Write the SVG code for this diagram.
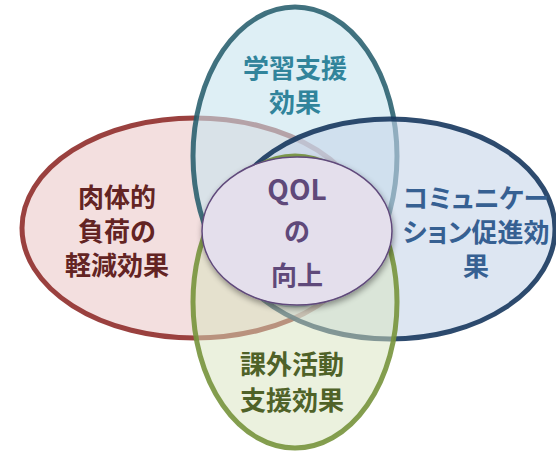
<svg xmlns="http://www.w3.org/2000/svg" width="556" height="452" viewBox="0 0 556 452">
<defs>
<filter id="sh" x="-20%" y="-20%" width="140%" height="150%"><feGaussianBlur in="SourceAlpha" stdDeviation="3"/><feOffset dx="1" dy="3"/><feComponentTransfer><feFuncA type="linear" slope="0.4"/></feComponentTransfer><feMerge><feMergeNode/><feMergeNode in="SourceGraphic"/></feMerge></filter>
</defs>
<style>
.e{stroke-width:5}
.t{font-family:"Noto Sans CJK JP","Noto Sans",sans-serif;font-weight:bold;font-size:26px;text-anchor:middle}
.k{font-feature-settings:"palt" 1}
</style>
<rect width="556" height="452" fill="#ffffff"/>
<g id="connectors"></g>
<g id="n-left"><ellipse class="e" cx="195" cy="228" rx="173" ry="110" fill="#f2dcdb" fill-opacity="0.9" stroke="#953735" stroke-opacity="0.95"/></g>
<g id="n-top"><ellipse class="e" cx="295" cy="156" rx="102" ry="149" fill="#c8e5ee" fill-opacity="0.6" stroke="#215968" stroke-opacity="0.85"/></g>
<g id="n-right"><ellipse class="e" cx="390" cy="229" rx="165" ry="110" fill="#c6d6ea" fill-opacity="0.6" stroke="#17375e" stroke-opacity="0.9"/></g>
<g id="n-bottom"><ellipse class="e" cx="295" cy="302" rx="102" ry="146" fill="#d7e4bd" fill-opacity="0.5" stroke="#77933c" stroke-opacity="0.9"/></g>
<g id="n-center"><ellipse cx="297" cy="231" rx="95" ry="74" fill="#e4dfec" stroke="#604a7b" stroke-width="1.5" filter="url(#sh)"/>
<text class="t" x="297" y="200" fill="#5f497a" style="font-size:28px">QOL</text>
<text class="t" x="297" y="240.5" fill="#5f497a">の</text>
<text class="t" x="297" y="284.5" fill="#5f497a">向上</text></g>
<g id="t-top"><text class="t" x="295" y="77.5" fill="#31849b">学習支援</text><text class="t" x="295" y="111.5" fill="#31849b">効果</text></g>
<g id="t-left"><text class="t" x="117" y="206.5" fill="#632423">肉体的</text><text class="t" x="117" y="240.5" fill="#632423">負荷の</text><text class="t" x="117" y="274.5" fill="#632423">軽減効果</text></g>
<g id="t-right"><text class="t k" x="476" y="207.5" fill="#366092">コミュニケー</text><text class="t k" x="476" y="241.5" fill="#366092">ション促進効</text><text class="t" x="476" y="275.5" fill="#366092">果</text></g>
<g id="t-bottom"><text class="t" x="292" y="373.5" fill="#4f6228">課外活動</text><text class="t" x="292" y="409.5" fill="#4f6228">支援効果</text></g>
</svg>
